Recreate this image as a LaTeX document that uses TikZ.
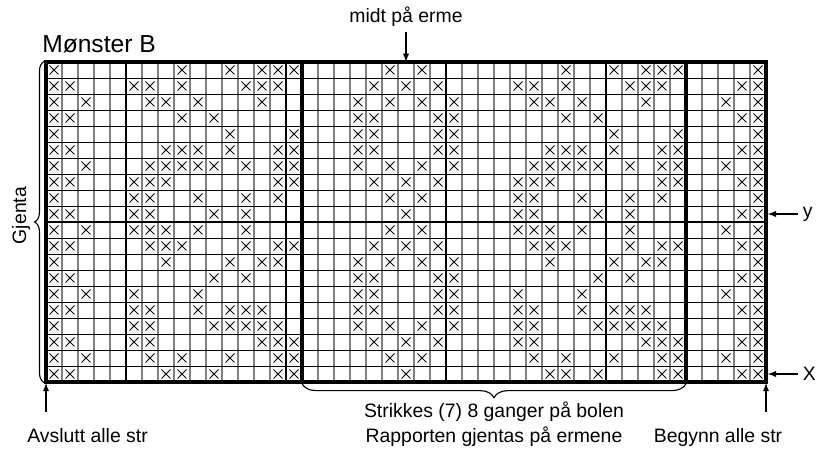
\documentclass[tikz,border=0pt]{standalone}
\usepackage{fontspec}
\setmainfont{Liberation Sans}
\usetikzlibrary{arrows.meta,decorations.pathreplacing}
\tikzset{
  thinrule/.style={gray,line width=1pt},
  rowrule/.style={black,line width=.6pt},
  tenrule/.style={black,line width=1.4pt},
  repeatrule/.style={black,line width=2.2pt},
  xmark/.style={black,line width=.7pt},
  chartlabel/.style={font=\fontsize{13.8}{16}\selectfont},
  chartarrow/.style={-{Latex[length=6pt,width=4.5pt]},line width=.9pt},
  chartbrace/.style={decorate,decoration={brace,amplitude=#1},line width=.8pt},
  chartbrace/.default=7pt
}
\begin{document}
\begin{tikzpicture}[x=.4cm,y=.4cm]
      \useasboundingbox (-2.875,-4.25) rectangle (48.25,23.875);

      \foreach \x in {1,...,44}
      \draw[thinrule] (\x,0) -- (\x,20);
      \foreach \y in {1,...,19}
      \draw[rowrule] (0,\y) -- (45,\y);
      \foreach \x in {5,15,25,35}
      \draw[tenrule] (\x,0) -- (\x,20);
      \draw[tenrule] (0,10) -- (45,10);
      \foreach \x in {16,40}
      \draw[repeatrule] (\x,0) -- (\x,20);
      \draw[line width=2.4pt] (0,0) rectangle (45,20);

      \foreach \r/\cols in {
        0/{0,8,11,13,14,15,21,23,32,35,37,38,39,44},
        1/{0,1,5,6,8,12,13,14,20,22,24,29,30,32,36,37,38,43,44},
        2/{0,2,6,7,9,13,19,21,23,25,30,31,33,37,42,44},
        3/{0,1,8,10,19,20,24,25,32,34,43,44},
        4/{0,11,15,19,20,24,25,35,39,44},
        5/{0,1,7,8,9,11,14,15,19,20,24,25,31,32,33,35,38,39,43,44},
        6/{0,2,6,7,8,9,10,12,14,15,19,21,23,25,30,31,32,33,34,36,38,39,42,44},
        7/{0,1,5,6,7,14,15,20,22,24,29,30,31,38,39,43,44},
        8/{0,5,6,9,12,14,21,23,29,30,33,36,38,44},
        9/{0,1,5,6,10,12,22,29,30,34,36,43,44},
        10/{0,2,5,6,7,9,12,21,23,29,30,31,33,36,42,44},
        11/{0,1,6,7,8,12,14,15,20,22,24,30,31,32,36,38,39,43,44},
        12/{0,7,11,13,14,19,21,23,25,31,35,37,38,44},
        13/{0,1,10,12,19,20,24,25,34,36,43,44},
        14/{0,2,5,9,19,20,24,25,29,33,42,44},
        15/{0,1,5,6,9,11,12,13,19,20,24,25,29,30,33,35,36,37,43,44},
        16/{0,5,6,10,11,12,13,14,19,21,23,25,29,30,34,35,36,37,38,44},
        17/{0,1,5,6,13,14,15,20,22,24,29,30,37,38,39,43,44},
        18/{0,2,6,8,11,14,15,21,23,30,32,35,38,39,42,44},
        19/{0,1,7,8,10,14,15,22,31,32,34,38,39,43,44}}
      \foreach \c in \cols
      \draw[xmark,shift={(\c,19-\r)}] (.22,.22) -- (.78,.78) (.22,.78) -- (.78,.22);

      \node[font=\fontsize{17.5}{20}\selectfont,inner sep=0,anchor=base west] (tittel) at (-0.25,20.6) {Mønster B};

      \node[chartlabel,anchor=base] (midt) at (22.5,22.45) {midt på erme};
      \coordinate (midtpil) at (22.5,20);
      \draw[chartarrow] (midt.south) -- (midtpil);

      \draw[chartbrace] (-0.1,-0.05) -- (-0.1,20.05);
      \node[chartlabel,rotate=90] (gjenta) at (-1.55,10.4) {Gjenta};

      \draw[chartbrace=10pt] (40,-0.1) -- (16,-0.1);
      \node[chartlabel,anchor=base] (strikkes) at (28,-2.2) {Strikkes (7) 8 ganger på bolen};
      \node[chartlabel,anchor=base] (rapport) at (28,-3.8) {Rapporten gjentas på ermene};

      \node[chartlabel,anchor=base] (avslutt) at (2.6,-3.8) {Avslutt alle str};
      \coordinate (avsluttfot) at (0,-1.9);
      \coordinate (avsluttpil) at (0,-0.05);
      \draw[chartarrow] (avsluttfot) -- (avsluttpil);

      \node[chartlabel,anchor=base] (begynn) at (42,-3.8) {Begynn alle str};
      \coordinate (begynnfot) at (45,-1.9);
      \coordinate (begynnpil) at (45,-0.05);
      \draw[chartarrow] (begynnfot) -- (begynnpil);

      \node[chartlabel,anchor=west] (yrad) at (47,10.5) {y};
      \coordinate (ypil) at (45.1,10.5);
      \draw[chartarrow] (yrad.west) -- (ypil);

      \node[chartlabel,anchor=west] (xrad) at (47,0.5) {X};
      \coordinate (xpil) at (45.1,0.5);
      \draw[chartarrow] (xrad.west) -- (xpil);
    \end{tikzpicture}
\end{document}
